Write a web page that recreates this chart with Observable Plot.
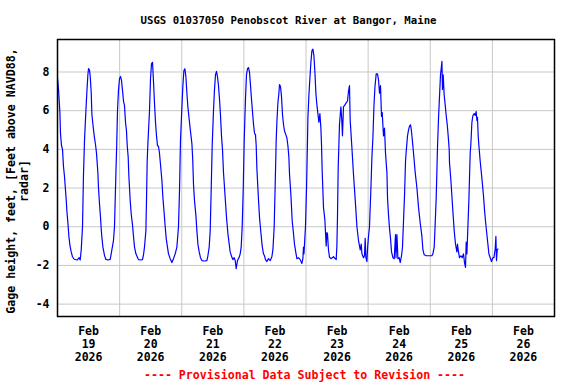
<!DOCTYPE html>
<html>
<head>
<meta charset="utf-8">
<script src="https://cdn.jsdelivr.net/npm/d3@7"></script>
<script src="https://cdn.jsdelivr.net/npm/@observablehq/plot@0.6"></script>
<style>
  html, body { margin: 0; padding: 0; background: #fff; }
  #chart svg { display: block; }
</style>
</head>
<body>
<div id="chart"></div>
<script>
const titleText = "USGS 01037050 Penobscot River at Bangor, Maine";
const captionText = "---- Provisional Data Subject to Revision ----";
const yLabelText = "Gage height, feet, [Feet above NAVD88,\nradar]";

// hours since 2026-02-19 00:00
const hours = [
  0.00,0.39,0.93,1.16,1.55,1.93,2.32,2.70,3.36,3.63,4.02,4.40,4.79,5.29,5.79,6.45,7.61,8.38,8.77,9.16,9.66,10.04,10.43,10.97,11.36,11.74,11.98,12.36,12.63,13.02,13.29,13.68,14.18,14.68,15.07,15.34,15.61,15.84,16.22,16.61,16.88,17.15,17.54,18.16,18.70,19.59,20.36,20.74,21.63,22.02,22.56,22.87,23.18,23.56,23.95,
  24.34,24.72,25.11,25.50,25.88,26.27,26.65,26.93,27.31,27.58,28.08,28.47,28.97,29.36,29.75,30.29,30.79,31.29,32.06,32.84,33.22,33.61,34.15,34.38,34.65,34.92,35.54,35.93,36.31,36.70,37.09,37.47,37.86,38.24,38.63,39.02,39.40,39.67,40.33,40.72,41.22,41.61,41.99,42.49,42.88,43.54,44.19,44.81,45.47,46.12,46.74,47.13,47.51,
  48.06,48.44,48.83,49.22,49.60,49.99,50.37,50.76,51.15,51.53,51.92,52.23,52.54,52.92,53.46,53.85,54.24,54.74,55.24,55.78,56.67,57.71,58.10,58.60,58.99,59.37,59.76,60.26,60.65,61.03,61.42,61.81,62.19,62.58,62.97,63.35,63.74,64.13,64.78,65.28,65.83,66.33,66.71,67.37,67.76,68.26,68.65,69.03,69.53,70.19,70.58,70.96,71.35,71.74,
  72.12,72.62,73.01,73.40,73.78,74.17,74.56,74.94,75.33,75.72,76.10,76.49,76.76,77.03,77.65,78.03,78.57,79.08,79.58,79.96,80.35,80.89,81.51,82.17,82.82,83.21,83.71,84.10,84.48,84.75,85.14,85.53,85.76,86.14,86.53,86.92,87.30,87.69,88.23,88.62,89.00,89.39,89.62,90.16,90.67,91.17,91.55,92.09,92.48,93.10,93.76,94.41,94.80,95.03,95.22,95.42,95.80,
  96.19,96.58,96.73,97.12,97.50,97.89,98.28,98.66,99.05,99.44,99.82,100.21,100.59,100.98,101.37,101.75,101.98,102.25,102.76,103.30,103.53,103.80,104.07,104.30,104.69,105.08,105.73,106.62,107.28,107.66,107.93,108.16,108.43,108.94,109.48,109.79,110.09,110.48,111.02,111.52,112.03,112.41,112.80,113.07,113.73,114.35,115.01,115.67,116.28,116.94,117.33,117.60,118.22,118.60,118.87,119.14,119.53,119.84,
  120.15,120.53,121.08,121.46,121.85,122.24,122.62,123.12,123.62,124.01,124.40,124.78,125.17,125.44,125.94,126.33,126.72,127.26,127.49,127.88,128.27,128.65,129.04,129.58,130.08,130.58,130.78,131.13,131.51,132.01,132.40,132.90,133.28,133.67,134.06,134.45,134.72,135.22,135.60,135.99,136.38,136.65,137.03,137.54,138.19,138.85,139.47,140.12,140.78,141.17,141.67,142.44,143.60,
  144.64,145.02,145.53,145.91,146.30,146.80,147.19,147.58,147.96,148.23,148.50,148.73,149.00,149.39,149.77,150.16,150.55,150.93,151.32,151.44,151.97,152.36,152.74,153.25,153.75,154.29,154.52,154.79,155.30,155.84,156.34,156.84,157.23,157.62,157.89,158.16,158.54,158.93,159.43,159.70,160.09,160.48,160.98,161.36,161.75,162.02,162.25,162.52,162.79,163.29,163.95,164.57,164.95,165.34,165.88,166.27,166.66,167.16,167.66,168.20,168.59,169.09,169.36,169.59,169.86,170.13
];

// gage height, feet
const gageHeight = [
  7.7,7.1,5.9,4.8,4.2,4.0,3.1,2.6,1.4,0.8,0.2,-0.5,-0.95,-1.3,-1.55,-1.68,-1.72,-1.6,-1.72,-1.2,0.0,2.7,4.45,6.0,7.0,7.86,8.17,8.1,7.8,6.95,5.8,5.3,4.7,4.25,3.8,3.3,2.75,2.0,1.2,0.5,-0.1,-0.55,-1.05,-1.48,-1.69,-1.72,-1.69,-1.4,-0.7,0.0,2.75,4.2,6.0,7.05,7.65,
  7.77,7.57,7.05,6.5,6.27,5.4,4.95,4.2,3.6,2.6,1.36,0.67,0.1,-0.5,-1.05,-1.4,-1.55,-1.7,-1.72,-1.7,-1.45,-1.05,-0.2,1.36,3.4,4.3,6.0,7.65,8.42,8.5,7.5,6.4,5.4,4.7,4.2,4.15,3.8,3.4,2.4,1.5,0.67,0.0,-0.6,-1.05,-1.4,-1.65,-1.85,-1.65,-1.4,-1.05,0.0,1.85,4.45,
  6.2,7.3,8.08,8.17,7.75,6.9,6.2,5.7,5.2,4.75,4.3,3.5,2.2,1.35,0.6,-0.2,-0.9,-1.3,-1.6,-1.75,-1.77,-1.75,-1.5,-1.05,-0.2,1.9,4.2,6.0,7.1,7.85,8.03,7.75,7.3,6.6,5.75,4.7,4.0,2.8,1.5,0.5,-0.35,-0.9,-1.3,-1.58,-1.7,-1.6,-1.75,-2.17,-1.75,-1.58,-1.4,-1.05,0.0,1.9,
  4.45,6.6,7.85,8.17,8.23,8.0,7.3,6.6,5.95,5.3,4.85,4.75,4.2,3.0,1.4,0.5,-0.3,-1.0,-1.4,-1.5,-1.7,-1.8,-1.65,-1.75,-1.55,-1.2,0.0,2.2,4.45,5.4,6.4,6.9,7.35,7.25,6.75,5.8,5.3,4.95,4.75,4.6,4.2,3.6,2.75,1.65,0.3,-0.35,-0.9,-1.35,-1.65,-1.6,-1.7,-1.9,-1.65,-1.05,-1.4,-0.9,0.0,
  1.9,4.45,5.6,6.8,7.65,8.5,9.1,9.18,8.85,8.0,6.9,6.3,5.85,5.4,5.85,5.1,4.3,2.9,1.0,0.35,-0.3,-1.0,-0.3,-0.35,-1.2,-1.58,-1.65,-1.55,-1.65,-1.7,-1.0,0.5,3.0,5.3,6.2,5.6,4.7,6.2,6.3,6.4,6.5,7.0,7.3,5.5,4.1,2.7,1.4,0.0,-0.7,-1.2,-0.9,-1.4,-1.6,-1.5,-0.6,-1.6,-1.8,-1.0,
  -0.5,0.0,2.0,3.6,4.6,6.2,7.2,7.9,7.9,7.6,6.9,7.3,5.7,5.9,4.7,5.1,3.8,2.8,1.5,0.6,-0.1,-0.6,-1.3,-1.6,-1.65,-0.4,-1.6,-0.4,-1.65,-1.6,-1.85,-1.5,-1.05,0.3,1.6,3.4,3.9,4.7,5.0,5.2,5.27,5.05,4.55,3.8,2.8,2.0,1.0,0.2,-0.5,-1.2,-1.45,-1.5,-1.5,
  -1.5,-1.4,-1.05,0.15,1.5,4.1,5.6,6.75,7.85,8.17,8.55,7.1,7.85,6.8,6.3,5.75,5.3,4.7,4.0,3.3,2.4,1.6,0.8,-0.2,-0.9,-1.3,-0.9,-1.2,-1.6,-1.5,-1.6,-1.4,-1.85,-2.1,-0.8,-1.4,0.0,1.4,3.8,4.3,5.4,5.75,5.85,5.75,5.96,5.5,5.65,4.7,4.2,3.4,2.5,1.6,0.9,0.3,-0.4,-0.9,-1.4,-1.6,-1.8,-1.6,-1.6,-1.15,-0.5,-1.75,-1.2,-1.15
];

const dayTicks = ["2026-02-19","2026-02-20","2026-02-21","2026-02-22","2026-02-23","2026-02-24","2026-02-25","2026-02-26"];
const yTicks = [-4, -2, 0, 2, 4, 6, 8];

const t0 = Date.UTC(2026, 1, 19);
const data = hours.map((h, i) => ({date: new Date(t0 + h * 3600000), value: gageHeight[i]}));
const midnights = dayTicks.slice(1).map(d => new Date(d + "T00:00Z"));
const noons = dayTicks.map(d => new Date(d + "T12:00Z"));
const fmt = d3.utcFormat("%b\n%d\n%Y");

const chart = Plot.plot({
  width: 576,
  height: 384,
  marginLeft: 57,
  marginRight: 22,
  marginTop: 39,
  marginBottom: 68,
  style: {fontFamily: "'DejaVu Sans Mono', monospace", fontWeight: "bold", fontSize: "11.5px", color: "#000", background: "#fff"},
  x: {type: "utc", domain: [new Date(t0), new Date(t0 + 8 * 86400000)]},
  y: {domain: [-4.64, 9.68]},
  marks: [
    Plot.ruleX(midnights, {stroke: "#c8c8c8", strokeWidth: 1}),
    Plot.ruleY(yTicks, {stroke: "#c8c8c8", strokeWidth: 1}),
    Plot.line(data, {x: "date", y: "value", stroke: "#0000ff", strokeWidth: 1.2}),
    Plot.frame({stroke: "#000", strokeWidth: 1.5}),
    Plot.axisX(noons, {tickSize: 0, tickPadding: 9, tickFormat: fmt, fontSize: 11.5, lineHeight: 1.13, fill: "#000", label: null}),
    Plot.axisY(yTicks, {tickSize: 0, tickPadding: 8, fontSize: 11.5, fill: "#000", label: null, tickFormat: d => d < 0 ? "-" + Math.abs(d) : String(d)}),
    Plot.text([yLabelText], {frameAnchor: "left", rotate: -90, dx: -40, dy: 3, lineAnchor: "middle", textAnchor: "middle", fontSize: 11.6, lineHeight: 1.12, fill: "#000"}),
    Plot.text([titleText], {frameAnchor: "top", dx: -17.5, dy: -19, lineAnchor: "middle", fontSize: 10.7, fill: "#000"}),
    Plot.text([captionText], {frameAnchor: "bottom", dx: -1.5, dy: 59, lineAnchor: "middle", fontSize: 11.6, fill: "#ff0000"})
  ]
});
document.getElementById("chart").appendChild(chart);
</script>
</body>
</html>
